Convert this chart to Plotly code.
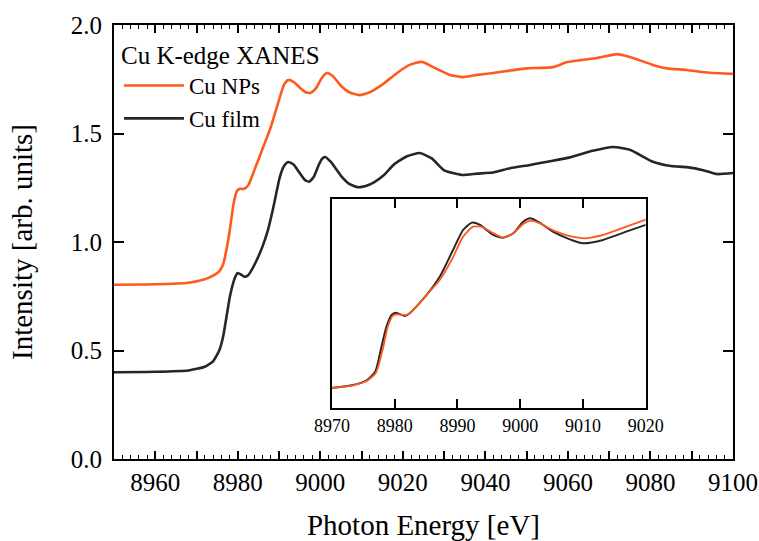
import plotly.graph_objects as go

# ---------------- data ----------------
film_energy = [8950, 8960, 8968, 8972, 8974, 8975.5, 8976.4, 8977.3, 8978.1, 8979.3, 8980.0,
               8980.8, 8981.6, 8982.4, 8983.2, 8984.6, 8986, 8987.3, 8988.5, 8990.2, 8991.2,
               8992.2, 8993.5, 8995, 8996.3, 8997.3, 8998.4, 8999.5, 9000.4, 9001.1, 9002.5,
               9005, 9007, 9009, 9011, 9013, 9015.5, 9018, 9021, 9024.1, 9027, 9030, 9034.3,
               9038, 9041.8, 9046, 9050.8, 9055, 9060.5, 9066, 9070.9, 9075, 9080.6, 9085,
               9088.8, 9093, 9096.1, 9100]
film_intensity = [0.400, 0.402, 0.408, 0.425, 0.45, 0.50, 0.56, 0.66, 0.75, 0.835, 0.857,
                  0.850, 0.840, 0.845, 0.866, 0.917, 0.98, 1.055, 1.15, 1.30, 1.35,
                  1.369, 1.357, 1.318, 1.285, 1.278, 1.30, 1.35, 1.383, 1.392, 1.37,
                  1.305, 1.268, 1.253, 1.258, 1.275, 1.31, 1.36, 1.395, 1.41, 1.385, 1.33, 1.309,
                  1.315, 1.32, 1.34, 1.355, 1.37, 1.39, 1.42, 1.438, 1.425, 1.37, 1.35,
                  1.345, 1.33, 1.313, 1.318]

nps_energy = [8950, 8960, 8968, 8972, 8974, 8975.5, 8976.5, 8977.3, 8978.1, 8979, 8979.8,
              8980.5, 8981.5, 8982.5, 8984, 8986, 8988, 8990.2, 8991.2, 8992.2, 8993.5,
              8995, 8996.5, 8997.7, 8999, 9000.3, 9001.6, 9003, 9005, 9007, 9009.5, 9012,
              9015, 9018.6, 9021.5, 9024.6, 9028, 9031.4, 9034.6, 9038, 9041.8, 9046, 9050,
              9056.4, 9059.8, 9063, 9067, 9071.9, 9075, 9080.6, 9084, 9088.8, 9093, 9095, 9100]
nps_intensity = [0.803, 0.805, 0.812, 0.828, 0.845, 0.865, 0.90, 0.97, 1.06, 1.18, 1.235,
                 1.245, 1.245, 1.26, 1.33, 1.43, 1.53, 1.668, 1.725, 1.747, 1.738,
                 1.712, 1.69, 1.688, 1.71, 1.755, 1.779, 1.765, 1.72, 1.69, 1.677, 1.69,
                 1.725, 1.779, 1.815, 1.83, 1.80, 1.77, 1.76, 1.77, 1.779, 1.79, 1.80,
                 1.806, 1.829, 1.838, 1.848, 1.866, 1.853, 1.816, 1.80, 1.793, 1.782, 1.779, 1.775]

inset_film_energy = [8970, 8973.4, 8975.6, 8976.9, 8977.9, 8978.7, 8979.5, 8980.2, 8981.65,
                     8982.4, 8985.1, 8987.2, 8989.3, 8990.9, 8992.3, 8993.6, 8995.7, 8997.3,
                     8998.9, 9000.5, 9001.6, 9003.1, 9005.2, 9007.9, 9010.0, 9013.2, 9016.9, 9020]
inset_film_norm = [0.0, 0.02, 0.053, 0.108, 0.275, 0.408, 0.486, 0.501, 0.479,
                   0.497, 0.619, 0.741, 0.918, 1.051, 1.10, 1.085, 1.018, 1.0,
                   1.029, 1.107, 1.129, 1.10, 1.04, 0.989, 0.963, 0.985, 1.04, 1.085]

inset_nps_energy = [8970, 8973.4, 8975.6, 8977.0, 8978.2, 8978.9, 8979.7, 8980.3, 8981.8,
                    8982.5, 8985.1, 8987.2, 8989.3, 8990.9, 8992.5, 8994.0, 8995.7, 8997.3,
                    8998.9, 9000.6, 9001.8, 9003.4, 9005.2, 9007.9, 9010.5, 9013.2, 9016.9, 9020]
inset_nps_norm = [0.0, 0.018, 0.048, 0.10, 0.275, 0.408, 0.48, 0.49, 0.485,
                  0.50, 0.619, 0.72, 0.87, 1.007, 1.073, 1.07, 1.03, 1.0,
                  1.03, 1.095, 1.113, 1.09, 1.05, 1.01, 0.996, 1.018, 1.073, 1.12]

main_tickvals = list(range(8950, 9101, 10))
main_ticktext = [str(v) if v % 20 == 0 else "" for v in main_tickvals]
legend_title = "Cu K-edge XANES"
series_names = ["Cu NPs", "Cu film"]

ORANGE = "#FF5A1E"
BLACK = "#262626"
FONT = "Liberation Serif"

fig = go.Figure()

fig.add_trace(go.Scatter(x=nps_energy, y=nps_intensity, mode="lines", name=series_names[0],
                         line=dict(color=ORANGE, width=2.6, shape="spline", smoothing=0.5),
                         xaxis="x", yaxis="y"))
fig.add_trace(go.Scatter(x=film_energy, y=film_intensity, mode="lines", name=series_names[1],
                         line=dict(color=BLACK, width=2.6, shape="spline", smoothing=0.5),
                         xaxis="x", yaxis="y"))

fig.add_trace(go.Scatter(x=inset_film_energy, y=inset_film_norm, mode="lines", showlegend=False,
                         line=dict(color=BLACK, width=2.0, shape="spline", smoothing=0.6),
                         xaxis="x2", yaxis="y2"))
fig.add_trace(go.Scatter(x=inset_nps_energy, y=inset_nps_norm, mode="lines", showlegend=False,
                         line=dict(color=ORANGE, width=1.8, shape="spline", smoothing=0.6),
                         xaxis="x2", yaxis="y2"))

fig.update_layout(
    width=759, height=541,
    margin=dict(l=114, r=26, t=25, b=82, autoexpand=False),
    paper_bgcolor="white", plot_bgcolor="white",
    font=dict(family=FONT, size=25, color="black"),
    showlegend=True,
    legend=dict(
        title=dict(text=legend_title, font=dict(family=FONT, size=25, color="black")),
        x=0.008, y=0.985, xanchor="left", yanchor="top",
        bgcolor="rgba(0,0,0,0)", borderwidth=0,
        font=dict(family=FONT, size=23, color="black"),
        tracegroupgap=0, itemwidth=60,
    ),
    xaxis=dict(
        domain=[0, 1], range=[8950, 9100], automargin=False,
        tickmode="array", tickvals=main_tickvals, ticktext=main_ticktext,
        ticks="inside", ticklen=8, tickwidth=1.5, tickcolor="black",
        minor=dict(tick0=8950, dtick=2, ticks="inside", ticklen=4, tickwidth=1.2, tickcolor="black"),
        showline=True, linewidth=2, linecolor="black", mirror="ticks",
        showgrid=False, zeroline=False,
        tickfont=dict(family=FONT, size=25, color="black"),
        ticklabelstandoff=0,
        title=dict(text="Photon Energy [eV]", font=dict(family=FONT, size=29, color="black"), standoff=26),
    ),
    yaxis=dict(
        domain=[0, 1], range=[0, 2.0], automargin=False,
        tickmode="linear", tick0=0, dtick=0.5, tickformat=".1f",
        ticks="inside", ticklen=10, tickwidth=1.5, tickcolor="black",
        showline=True, linewidth=2, linecolor="black", mirror="ticks",
        showgrid=False, zeroline=False,
        tickfont=dict(family=FONT, size=25, color="black"),
        ticklabelstandoff=5,
        title=dict(text="Intensity [arb. units]", font=dict(family=FONT, size=29, color="black"), standoff=30),
    ),
    xaxis2=dict(
        domain=[0.352, 0.859], range=[8970, 9020], anchor="y2", automargin=False,
        tickmode="linear", tick0=8970, dtick=10,
        ticks="inside", ticklen=9, tickwidth=1.5, tickcolor="black",
        showline=True, linewidth=1.8, linecolor="black", mirror="ticks",
        showgrid=False, zeroline=False,
        tickfont=dict(family=FONT, size=18, color="black"),
        ticklabelstandoff=0,
    ),
    yaxis2=dict(
        domain=[0.1175, 0.599], range=[-0.133, 1.257], anchor="x2", automargin=False,
        showticklabels=False, ticks="",
        showline=True, linewidth=1.8, linecolor="black", mirror=True,
        showgrid=False, zeroline=False,
    ),
)

fig.write_html("out.html", config={"displayModeBar": False})

# remove the default page margin so the figure sits at the window's top-left corner
with open("out.html", "r", encoding="utf-8") as fh:
    page = fh.read()
page = page.replace("<head>", "<head><style>html,body{margin:0;padding:0;overflow:hidden;}</style>", 1)
with open("out.html", "w", encoding="utf-8") as fh:
    fh.write(page)
